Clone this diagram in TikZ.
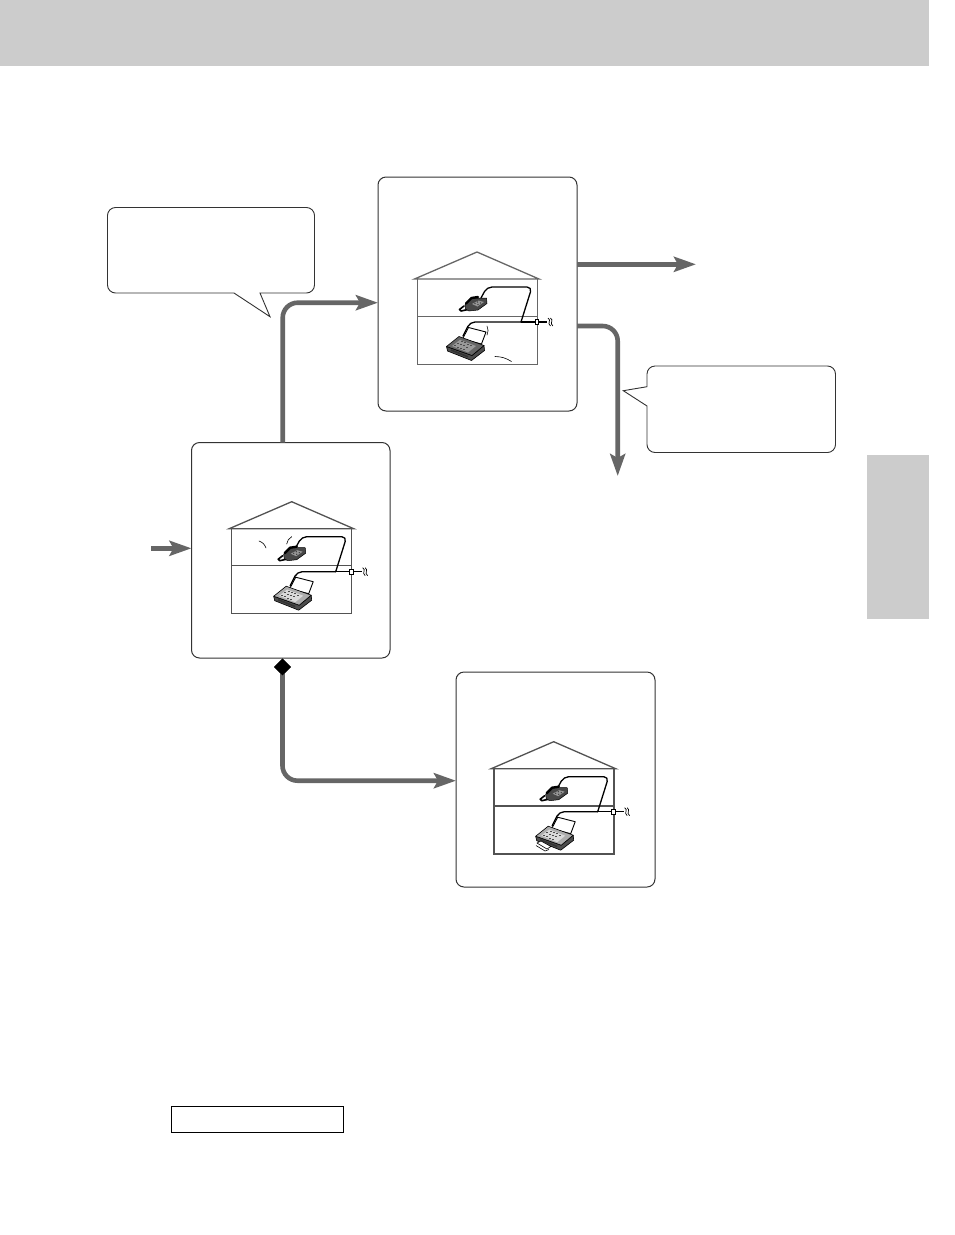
\documentclass[tikz,border=0pt]{standalone}
\usetikzlibrary{arrows.meta}
\definecolor{barg}{HTML}{CCCCCC}
\definecolor{arrowg}{HTML}{666666}
\definecolor{boxedge}{HTML}{333333}
\tikzset{
  flowbox/.style={draw=boxedge,line width=1pt,rounded corners=8pt,inner sep=0pt,outer sep=0pt,fill=white},
  callout/.style={draw=boxedge,line width=0.9pt,fill=white,line join=miter},
  flow/.style={draw=arrowg,line width=4.6pt,rounded corners=15pt,-{Stealth[length=22pt,width=15pt,inset=4pt]}},
  flowshort/.style={draw=arrowg,line width=4.6pt,-{Stealth[length=22pt,width=15pt,inset=4pt]}},
  wire/.style={line width=1.3pt,line cap=round,line join=round,rounded corners=5pt},
  swoosh/.style={line width=0.6pt,line cap=round},
}
% #1,#2 shift; #3 wall width; #4 wall colour; #5 phone dx; #6 fax dx; #7 fax fill; #8 fax top face
\newcommand{\housescene}[8]{%
\begin{scope}[shift={(#1,#2)}]
  \draw[draw=#4,line width=#3] (417,279) -- (417,364) -- (537,364) -- (537,279);
  \draw[draw=#4,line width=#3] (417,316) -- (537,316);
  \draw[draw=#4,line width=1.3pt,line join=miter] (414.5,279) -- (477,252) -- (539,279) -- cycle;
  % wires
  \draw[wire,black] (481,298) -- (487,287) -- (532,287) -- (521,322);
  \draw[wire,black] (521,322) -- ({470+#6},322) -- ({463+#6},336);
  \draw[line width=1.1pt,black] (537,322) -- (547,322);
  \foreach \q in {0,2.4}{\draw[line width=0.7pt,black] ({548+\q},318) .. controls ({552+\q},320.5) and ({546.5+\q},323) .. ({550.5+\q},326);}
  \draw[line width=1.3pt,black] (521,322) -- (537,322);
  \node[draw=black,fill=white,line width=0.9pt,inner sep=0pt,outer sep=0pt,minimum width=3.8pt,minimum height=5.2pt] (jack#1) at (537,322) {};
  % phone
  \begin{scope}[shift={(#5,0)}]
    \draw[black,line width=1.6pt,line cap=round,line join=round] (464,306) -- (459.5,309.5) -- (461,311) -- (468,309.5);
    \fill[black!72,draw=black,line width=0.5pt,line join=round] (465,304.5) -- (471,298) -- (486.5,298) -- (487,303.5) -- (478,310) -- (469,311) -- (465.5,309) -- cycle;
    \draw[black,line width=2.4pt,line cap=round] (466,303.5) -- (471.5,298) -- (478,297);
    \fill[black!42] (472,304) -- (478.5,300.5) -- (484,302) -- (477.5,306.5) -- cycle;
    \foreach \a/\b in {475/303.5,478/304.5,477.5/302,480.5/303}{\fill[black!85] (\a,\b) circle (0.6);}
  \end{scope}
  % fax
  \begin{scope}[shift={(#6,0)}]
    \draw[black,line width=0.9pt,fill=white,line join=round] (462.5,339) -- (468.5,327.5) -- (486,332) -- (481.5,344) -- cycle;
    \fill[black!70,draw=black,line width=0.6pt,line join=round] (446.5,346.5) -- (447.5,351) -- (471.5,360.5) -- (484.5,350.5) -- (484,345.5) -- (472,355.5) -- cycle;
    \fill[#7,draw=black,line width=0.6pt,line join=round] (446.5,346.5) -- (459,336.5) -- (484,345.5) -- (472,355.5) -- cycle;
    \fill[#8] (452,346) -- (460,339.8) -- (476,346) -- (468,352.5) -- cycle;
    \foreach \a/\b in {455/345.5,458/347,461/348.3,464/349.6,458/343,461/344.3,464/345.6,467/347,462/341.5,465/342.8,468/344.2,471/345.5}{\fill[black!70] (\a,\b) ++(-1,-0.5) rectangle ++(2,1);}
    \draw[black!80,line width=1.6pt] (451,350) -- (468,356.8);
  \end{scope}
\end{scope}}
\begin{document}
\begin{tikzpicture}[x=1pt,y=-1pt]
\useasboundingbox (0,0) rectangle (954,1235);
\fill[barg] (0,0) rectangle (929,66);
\fill[barg] (867,455) rectangle (929,619);

\node[flowbox,minimum width=199pt,minimum height=234pt] (boxA) at (477.5,294) {};
\node[flowbox,minimum width=198.5pt,minimum height=215.5pt] (boxB) at (290.75,550.25) {};
\node[flowbox,minimum width=199pt,minimum height=215pt] (boxC) at (555.5,779.5) {};

\housescene{0}{0}{0.9pt}{black!60}{0}{0}{black!60}{black!40}
\draw[swoosh] (487,326) to[bend left=25] (487,335);
\draw[swoosh] (495,356.5) to[bend left=15] (511.5,361.5);

\housescene{-185.3}{249.7}{1.3pt}{black!68}{4}{12.5}{black!32}{black!15}
\draw[swoosh] (259,541) to[bend left=25] (266,548);
\draw[swoosh] (291.7,536.7) to[bend right=25] (286.7,544);

\housescene{76.7}{489.7}{1.7pt}{black!68}{4}{12.5}{black!32}{black!15}
\draw[black,line width=0.6pt,fill=white,line join=round] (537,843) -- (541,841) -- (551,846.5) -- (547,849) -- cycle;
\draw[black,line width=0.6pt] (536,845.5) -- (545,851) -- (549,849.5);

% callouts
\draw[callout] (260,293) [rounded corners=8pt] -- (314.5,293) -- (314.5,207.5) -- (107.5,207.5) -- (107.5,293) -- (226,293) [sharp corners] -- (234,293) -- (270,316.7) -- cycle;
\node[inner sep=0pt,outer sep=0pt] (callA) at (211,250) {};
\draw[callout] (647,386.7) [rounded corners=8pt] -- (647,366) -- (835.5,366) -- (835.5,452.5) -- (647,452.5) -- (647,414) [sharp corners] -- (647,406) -- (623.3,390.7) -- cycle;
\node[inner sep=0pt,outer sep=0pt] (callB) at (741,409) {};

\coordinate (endRight) at (696,264.3);
\coordinate (endDown) at (617.7,476);
\coordinate (startIn) at (151,548.3);
\node[fill=black,inner sep=0pt,outer sep=0pt,minimum size=12pt,rotate=45] (dia) at (282.5,667) {};

\coordinate (upFromB) at (282.7,442.5);
\draw[flow] (upFromB) |- (boxA.west |- 0,302.7);
\draw[flowshort] (boxA.east |- endRight) -- (endRight);
\draw[flow] (boxA.east |- 0,326) -| (endDown);
\draw[flowshort] (startIn) -- (boxB.west |- startIn);
\draw[flow] (dia.center) |- (boxC.west |- 0,780.7);
\node[fill=black,inner sep=0pt,outer sep=0pt,minimum size=12pt,rotate=45] at (dia.center) {};

\node[draw=black,line width=1pt,inner sep=0pt,outer sep=0pt,minimum width=172.5pt,minimum height=26pt] (legend) at (257.25,1119) {};
\end{tikzpicture}
\end{document}
